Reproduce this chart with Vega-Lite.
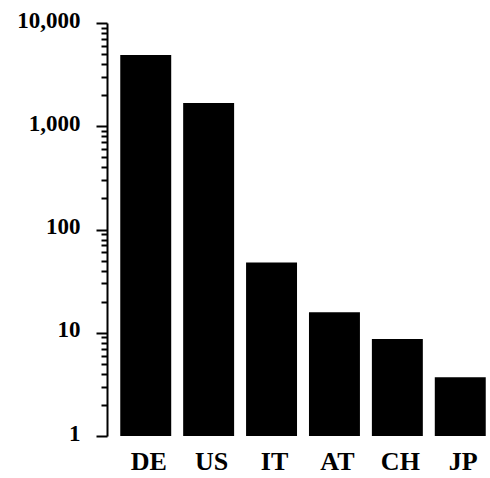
{
  "$schema": "https://vega.github.io/schema/vega-lite/v6.json",
  "width": 368,
  "height": 413,
  "autosize": {"type": "none"},
  "padding": {"left": 119, "top": 23, "right": 3, "bottom": 42},
  "background": "white",
  "config": {"view": {"stroke": null}},
  "data": {
    "values": [
      {"country": "DE", "value": 4900},
      {"country": "US", "value": 1680},
      {"country": "IT", "value": 48},
      {"country": "AT", "value": 15.8},
      {"country": "CH", "value": 8.7},
      {"country": "JP", "value": 3.7}
    ]
  },
  "mark": {"type": "bar", "color": "black"},
  "encoding": {
    "x": {
      "field": "country",
      "type": "nominal",
      "sort": null,
      "scale": {"paddingInner": 0.19, "paddingOuter": 0.02},
      "axis": {
        "title": null,
        "labelAngle": 0,
        "domain": false,
        "ticks": false,
        "labelFont": "Liberation Serif",
        "labelFontSize": 26,
        "labelFontWeight": "bold",
        "labelColor": "black",
        "labelPadding": 12,
        "labelOffset": 3
      }
    },
    "y": {
      "field": "value",
      "type": "quantitative",
      "scale": {"type": "log", "domain": [1, 10000], "nice": false},
      "axis": {
        "title": null,
        "offset": 12,
        "grid": false,
        "domainColor": "black",
        "domainWidth": 2,
        "tickColor": "black",
        "tickWidth": 2,
        "values": [1,2,3,4,5,6,7,8,9,10,20,30,40,50,60,70,80,90,100,200,300,400,500,600,700,800,900,1000,2000,3000,4000,5000,6000,7000,8000,9000,10000],
        "tickSize": {"condition": {"test": "indexof([1,10,100,1000,10000], datum.value) >= 0", "value": 11}, "value": 6},
        "format": ",",
        "labelExpr": "indexof([1,10,100,1000,10000], datum.value) >= 0 ? datum.label : ''",
        "labelFont": "Liberation Serif",
        "labelFontSize": 23,
        "labelFontWeight": "bold",
        "labelColor": "black",
        "labelPadding": 16,
        "labelOffset": -3,
        "labelFlush": false,
        "labelOverlap": false
      }
    },
    "y2": {"datum": 1}
  }
}
